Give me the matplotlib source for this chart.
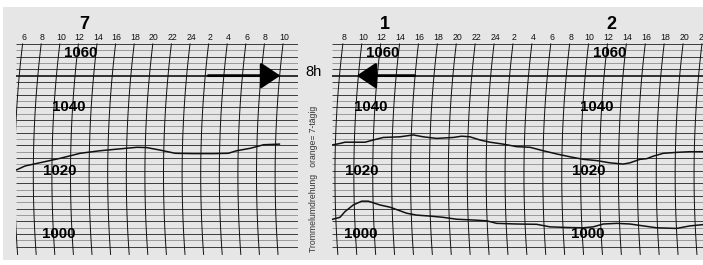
import numpy as np
import matplotlib
matplotlib.use("Agg")
import matplotlib.pyplot as plt
from matplotlib.patches import Rectangle

plt.rcParams['font.family'] = ['Liberation Sans', 'DejaVu Sans']

# ================================================
# Data read off the barograph strip
# ================================================

# hour ticks (hours counted from midnight of the first day of each strip)
left_hours = list(range(6, 35, 2))
right_hours = list(range(8, 47, 2))
left_day_labels = ["7"]
left_day_hours = [12.6]
right_day_labels = ["1", "2"]
right_day_hours = [12.4, 36.4]

# pressure grid (hPa)
grid_pressures = list(range(996, 1061, 2))
label_pressures = [1060, 1040, 1020, 1000]
label_hours = [12.2, 10.9, 10.0, 9.9]   # label hour offsets (follow the pen arc)
ref_pressure = 1050                      # the "8h" line

# left strip trace
left_t = [5.28, 6.25, 8.05, 10.0, 12.17, 14.3, 16.45, 18.3, 19.35, 20.8, 22.4,
          24.3, 26.5, 28.1, 29.0, 30.5, 31.9, 33.6]
left_p = [1020.2, 1021.5, 1022.65, 1023.9, 1025.5, 1026.3, 1026.9, 1027.4, 1027.3,
          1026.5, 1025.5, 1025.4, 1025.4, 1025.5, 1026.3, 1027.1, 1028.2, 1028.4]

# right strip, upper trace
upper_t = [6.80, 7.68, 8.21, 10.33, 11.21, 12.26, 14.03, 15.44, 16.50, 17.92, 19.67,
           20.56, 21.44, 22.50, 23.56, 24.96, 26.38, 27.79, 29.20, 30.61, 32.02,
           33.43, 34.85, 36.25, 37.66, 38.37, 39.43, 40.14, 40.84, 41.90, 43.31,
           44.72, 46.10]
upper_p = [1028.1, 1028.6, 1029.0, 1029.0, 1029.7, 1030.5, 1030.7, 1031.3, 1030.7,
           1030.2, 1030.5, 1030.9, 1030.7, 1029.7, 1029.0, 1028.4, 1027.6, 1027.4,
           1026.3, 1025.3, 1024.4, 1023.6, 1023.2, 1022.5, 1022.1, 1022.5, 1023.6,
           1023.8, 1024.6, 1025.5, 1025.8, 1026.0, 1026.0]

# right strip, lower trace
lower_t = [6.91, 7.68, 8.21, 9.09, 9.98, 10.68, 11.92, 12.98, 14.74, 15.80, 17.21,
           18.62, 20.03, 22.15, 23.21, 24.27, 26.38, 28.50, 29.90, 31.67, 33.43,
           34.49, 35.55, 36.99, 38.37, 39.78, 41.20, 43.31, 44.72, 46.10]
lower_p = [1004.7, 1005.3, 1007.1, 1009.2, 1010.4, 1010.4, 1009.2, 1008.5, 1006.6,
           1006.0, 1005.7, 1005.3, 1004.7, 1004.4, 1004.2, 1003.4, 1003.2, 1003.1,
           1002.3, 1002.1, 1002.0, 1002.3, 1003.2, 1003.4, 1003.2, 1002.6, 1002.0,
           1001.8, 1002.6, 1003.0]

# arrows on the 8h line (tail hour, tip hour)
left_arrow = (25.95, 33.7)
right_arrow = (15.6, 9.45)

# ================================================
# Layout
# ================================================

W, H = 703, 265
P_LOW, P_HIGH = 992, 1062
fig = plt.figure(figsize=(W / 100, H / 100), dpi=100)
fig.patch.set_facecolor("white")
fig.patches.append(Rectangle((3 / W, 5 / H), 700 / W, 253 / H, transform=fig.transFigure,
                             facecolor="#e6e6e6", edgecolor="none", zorder=-10))

ybot = (H - 259.5) / H
yh = (259.5 - 37.6) / H
ax_l = fig.add_axes([16 / W, ybot, 282 / W, yh])
ax_r = fig.add_axes([332 / W, ybot, 371 / W, yh])
ax_l.set_xlim(5.28, 35.6)
ax_r.set_xlim(6.84, 46.1)

PX_PER_HPA = yh * H / (P_HIGH - P_LOW)


def arc_shift(p, px_per_h):
    """Horizontal offset (hours) of the pen arc at pressure p."""
    y = (1060 - p) * PX_PER_HPA + 43.9
    dx = -8 + 8 * ((y - 175) / 132) ** 2
    return dx / px_per_h


def draw_strip(ax, hours, day_labels, day_hours, day_starts):
    ax.set_ylim(P_LOW, P_HIGH)
    ax.axis("off")
    x0, x1 = ax.get_xlim()
    px_per_h = ax.get_position().width * W / (x1 - x0)

    for p in grid_pressures:
        if p == ref_pressure:
            ax.hlines(p, x0, x1, color="black", lw=1.1, zorder=2)
        elif (p // 2) % 2 == 0:
            ax.hlines(p, x0, x1, color="#202020", lw=0.6, zorder=1)
        else:
            ax.hlines(p, x0, x1, color="#9a9a9a", lw=0.7, zorder=1)

    pp = np.linspace(993.6, 1060, 60)
    for h in hours:
        ax.plot(h + arc_shift(pp, px_per_h), pp, color="#111111", lw=0.7, zorder=2)
        ax.text(h + 0.1, 1061.9, str((h - 1) % 24 + 1), ha="center", va="center",
                fontsize=6.3, color="#111111", clip_on=False)

    for lab, h in zip(day_labels, day_hours):
        ax.text(h, 1066, lab, ha="center", va="center", fontsize=13,
                fontweight="bold", clip_on=False)

    for d in day_starts:
        for p, h in zip(label_pressures, label_hours):
            va = "top" if p == 1060 else "center"
            yy = 1059.4 if p == 1060 else p
            ax.text(d + h, yy, str(p), ha="center", va=va, fontsize=10.8,
                    fontweight="bold", zorder=4)
    return px_per_h


draw_strip(ax_l, left_hours, left_day_labels, left_day_hours, [0])
draw_strip(ax_r, right_hours, right_day_labels, right_day_hours, [0, 24])

ax_l.plot(left_t, left_p, color="#111111", lw=1.1, zorder=3)
ax_r.plot(upper_t, upper_p, color="#111111", lw=1.1, zorder=3)
ax_r.plot(lower_t, lower_p, color="#111111", lw=1.1, zorder=3)

for ax, (tail, tip) in [(ax_l, left_arrow), (ax_r, right_arrow)]:
    ax.annotate("", xy=(tip, ref_pressure), xytext=(tail, ref_pressure),
                arrowprops=dict(arrowstyle="-|>,head_length=1.2,head_width=0.8",
                                mutation_scale=10, lw=2, color="black",
                                shrinkA=0, shrinkB=0), zorder=5)

fig.text(314 / W, (H - 72.5) / H, "8h", ha="center", va="center", fontsize=10.5)
fig.text(313 / W, (H - 252) / H, "Trommelumdrehung   orange= 7-tägig", rotation=90,
         ha="center", va="bottom", fontsize=6.2, color="#333333")

fig.savefig("out.png", dpi=100, facecolor="white")
